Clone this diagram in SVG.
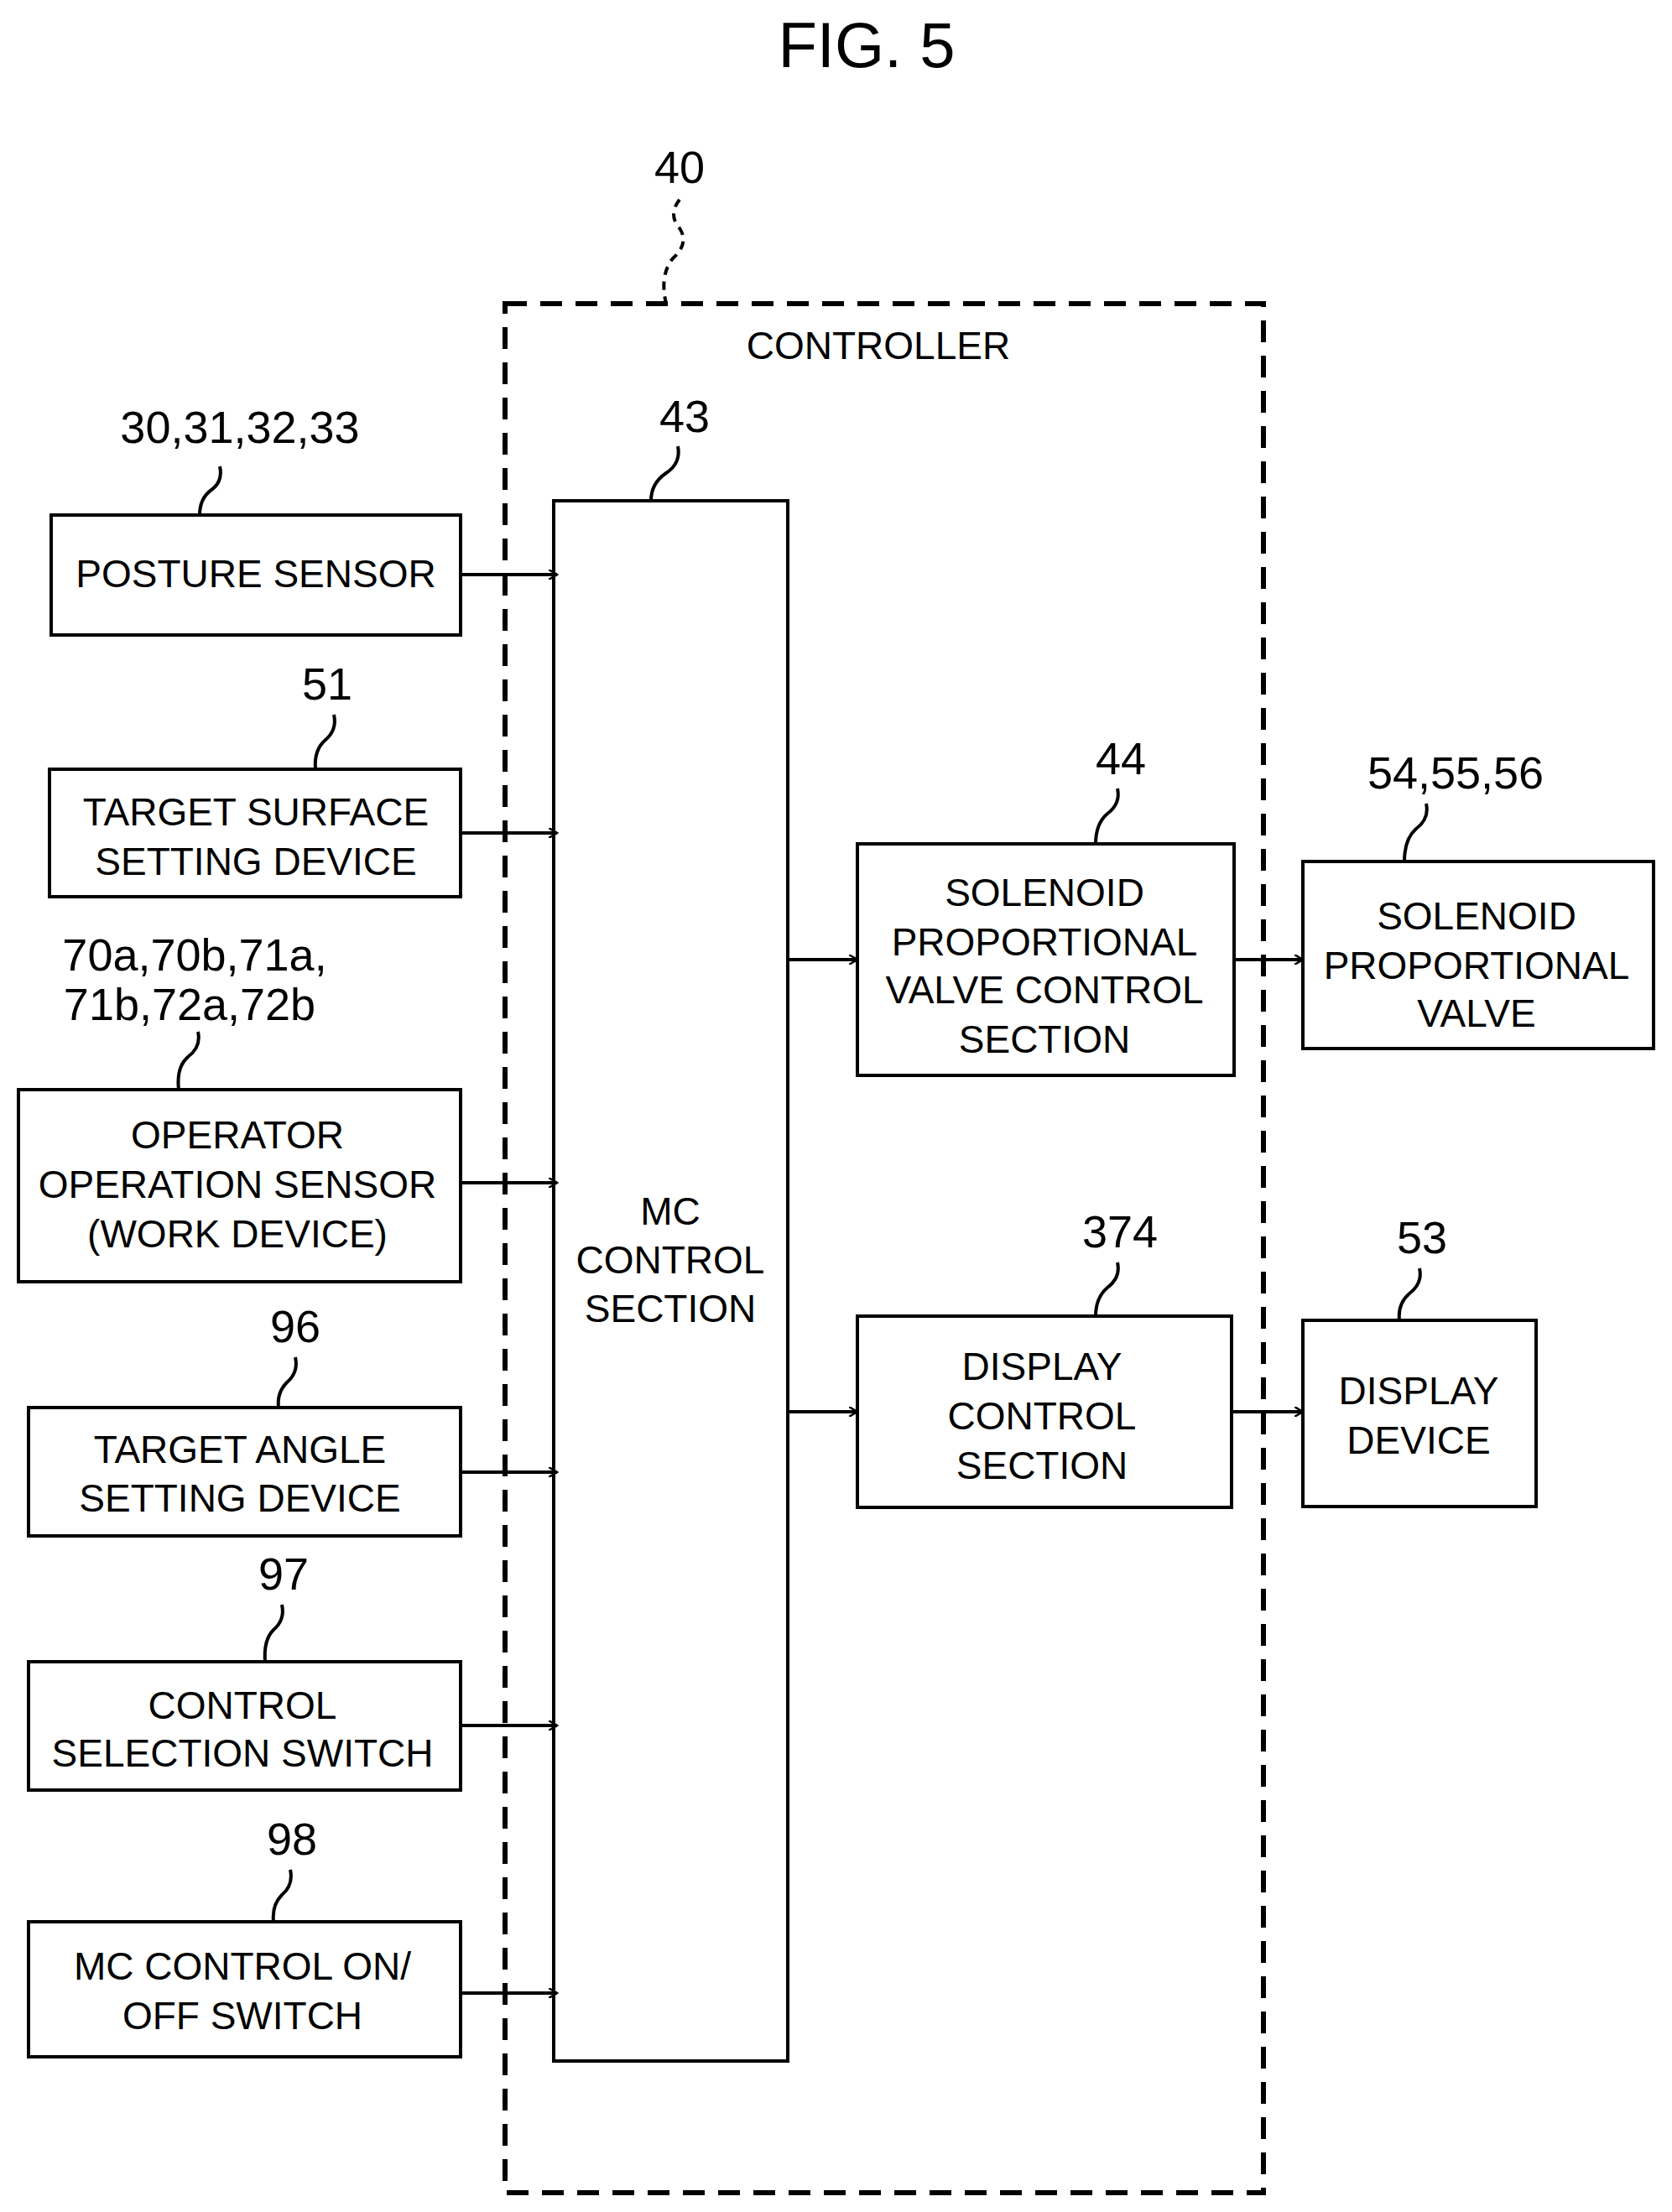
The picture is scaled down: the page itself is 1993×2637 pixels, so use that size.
<svg xmlns="http://www.w3.org/2000/svg" width="1993" height="2637" viewBox="0 0 1993 2637">
<style>
text{font-family:"Liberation Sans",Arial,sans-serif;font-size:46px;fill:#000;text-anchor:middle}
.b{fill:#fff;stroke:#000;stroke-width:4}
.l{fill:none;stroke:#000;stroke-width:4}
.n{font-size:54px}
</style>
<defs>
<marker id="a" markerWidth="12" markerHeight="12" refX="10" refY="6" orient="auto" markerUnits="userSpaceOnUse" viewBox="0 0 12 12">
<polyline points="0,0 10,6 0,12" fill="none" stroke="#000" stroke-width="2.5"/>
</marker>
</defs>
<rect width="1993" height="2637" fill="#fff"/>
<text x="1033" y="80" style="font-size:76px">FIG. 5</text>
<g id="controller">
<rect x="602" y="362" width="904" height="2252" fill="none" stroke="#000" stroke-width="6" stroke-dasharray="26,16"/>
<text x="1047" y="428">CONTROLLER</text>
<text class="n" x="810" y="218">40</text>
<path class="l" d="M810 238 q-14 18 0 34 q12 18 -8 36 q-16 20 -8 54" stroke-dasharray="10,8"/>
</g>
<g id="mc">
<rect class="b" x="660" y="597" width="279" height="1860"/>
<text x="799" y="1460">MC</text><text x="799" y="1518">CONTROL</text><text x="799" y="1576">SECTION</text>
<text class="n" x="816" y="515">43</text>
<path class="l" d="M808 532 q4 20 -14 32 q-18 12 -18 33"/>
</g>
<g id="posture">
<rect class="b" x="61" y="614" width="488" height="143"/>
<text x="305" y="700">POSTURE SENSOR</text>
<text class="n" x="286" y="528">30,31,32,33</text>
<path class="l" d="M262 556 q4 18 -10 28 q-14 10 -14 30"/>
</g>
<g id="target-surface">
<rect class="b" x="59" y="917" width="490" height="152"/>
<text x="305" y="984">TARGET SURFACE</text><text x="305" y="1043">SETTING DEVICE</text>
<text class="n" x="390" y="834">51</text>
<path class="l" d="M398 852 q4 18 -10 30 q-14 12 -12 35"/>
</g>
<g id="operator">
<rect class="b" x="22" y="1299" width="527" height="229"/>
<text x="283" y="1369">OPERATOR</text><text x="283" y="1428">OPERATION SENSOR</text><text x="283" y="1487">(WORK DEVICE)</text>
<text class="n" x="232" y="1157">70a,70b,71a,</text><text class="n" x="226" y="1216">71b,72a,72b</text>
<path class="l" d="M236 1230 q4 18 -12 30 q-14 12 -11 39"/>
</g>
<g id="target-angle">
<rect class="b" x="34" y="1678" width="515" height="153"/>
<text x="286" y="1744">TARGET ANGLE</text><text x="286" y="1802">SETTING DEVICE</text>
<text class="n" x="352" y="1600">96</text>
<path class="l" d="M352 1618 q4 18 -10 30 q-12 12 -10 30"/>
</g>
<g id="control-selection">
<rect class="b" x="34" y="1981" width="515" height="153"/>
<text x="289" y="2049">CONTROL</text><text x="289" y="2106">SELECTION SWITCH</text>
<text class="n" x="338" y="1895">97</text>
<path class="l" d="M336 1913 q4 18 -10 30 q-12 12 -10 38"/>
</g>
<g id="mc-onoff">
<rect class="b" x="34" y="2291" width="515" height="161"/>
<text x="289" y="2360">MC CONTROL ON/</text><text x="289" y="2419">OFF SWITCH</text>
<text class="n" x="348" y="2211">98</text>
<path class="l" d="M346 2229 q4 18 -10 30 q-12 12 -10 32"/>
</g>
<g id="solenoid-control">
<rect class="b" x="1022" y="1006" width="449" height="276"/>
<text x="1245" y="1080">SOLENOID</text><text x="1245" y="1139">PROPORTIONAL</text><text x="1245" y="1196">VALVE CONTROL</text><text x="1245" y="1255">SECTION</text>
<text class="n" x="1336" y="923">44</text>
<path class="l" d="M1332 940 q4 18 -12 30 q-14 12 -14 36"/>
</g>
<g id="solenoid-valve">
<rect class="b" x="1553" y="1027" width="418" height="223"/>
<text x="1760" y="1108">SOLENOID</text><text x="1760" y="1167">PROPORTIONAL</text><text x="1760" y="1224">VALVE</text>
<text class="n" x="1735" y="940">54,55,56</text>
<path class="l" d="M1700 958 q4 18 -12 30 q-14 12 -14 39"/>
</g>
<g id="display-control">
<rect class="b" x="1022" y="1569" width="446" height="228"/>
<text x="1242" y="1645">DISPLAY</text><text x="1242" y="1704">CONTROL</text><text x="1242" y="1763">SECTION</text>
<text class="n" x="1335" y="1487">374</text>
<path class="l" d="M1332 1505 q4 18 -12 30 q-14 12 -14 34"/>
</g>
<g id="display-device">
<rect class="b" x="1553" y="1574" width="278" height="222"/>
<text x="1691" y="1674">DISPLAY</text><text x="1691" y="1733">DEVICE</text>
<text class="n" x="1695" y="1494">53</text>
<path class="l" d="M1692 1512 q4 18 -12 30 q-14 12 -12 32"/>
</g>
<g id="connectors" class="l" marker-end="url(#a)">
<line x1="549" y1="685" x2="664" y2="685" class="l" marker-end="url(#a)"/>
<line x1="549" y1="993" x2="664" y2="993" class="l" marker-end="url(#a)"/>
<line x1="549" y1="1410" x2="664" y2="1410" class="l" marker-end="url(#a)"/>
<line x1="549" y1="1755" x2="664" y2="1755" class="l" marker-end="url(#a)"/>
<line x1="549" y1="2057" x2="664" y2="2057" class="l" marker-end="url(#a)"/>
<line x1="549" y1="2376" x2="664" y2="2376" class="l" marker-end="url(#a)"/>
<line x1="939" y1="1144" x2="1022" y2="1144" class="l" marker-end="url(#a)"/>
<line x1="1471" y1="1144" x2="1553" y2="1144" class="l" marker-end="url(#a)"/>
<line x1="939" y1="1683" x2="1022" y2="1683" class="l" marker-end="url(#a)"/>
<line x1="1468" y1="1683" x2="1553" y2="1683" class="l" marker-end="url(#a)"/>
</g>
</svg>
